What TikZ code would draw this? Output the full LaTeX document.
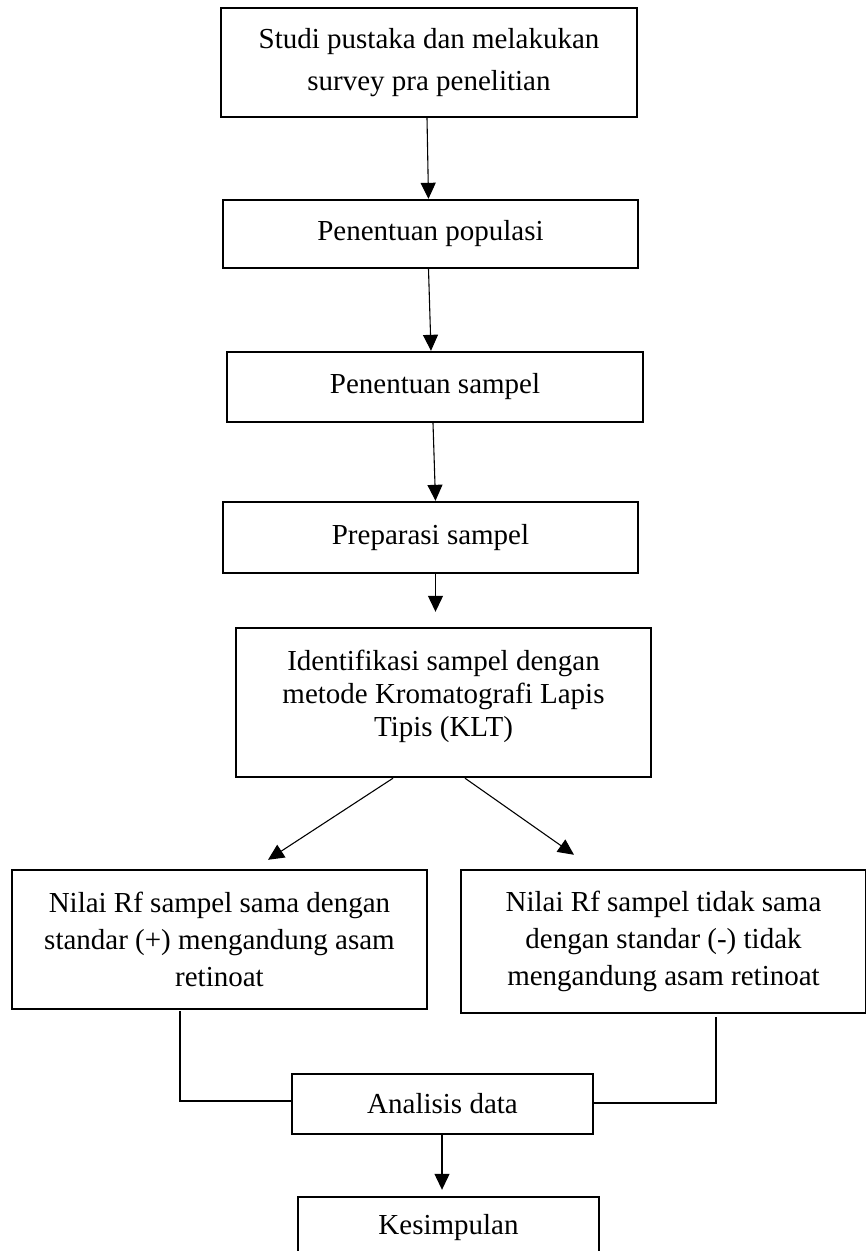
\documentclass[tikz,border=0pt]{standalone}
\usepackage{fontspec}
\setmainfont{Liberation Serif}
\usetikzlibrary{arrows.meta,calc}
\newlength\pxu
\setlength\pxu{0.4138pt}
\begin{document}
\begin{tikzpicture}[x=0.4138pt,y=-0.4138pt,
  box/.style={draw, line width=1pt, inner sep=0pt, align=center, font=\fontsize{12}{15.3}\selectfont},
  con/.style={line width=0.45pt},
  arr/.style={con, -{Triangle[length=6.6pt,width=6.2pt]}}]
\useasboundingbox (0,0) rectangle (866,1251);
\node[box, minimum width=416\pxu, minimum height=109\pxu, font=\fontsize{12}{17.4}\selectfont] (b1) at (429,62.5) {Studi pustaka dan melakukan\\survey pra penelitian};
\node[box, minimum width=415\pxu, minimum height=68\pxu] (b2) at (430.5,234) {Penentuan populasi};
\node[box, minimum width=416\pxu, minimum height=70\pxu] (b3) at (435,387) {Penentuan sampel};
\node[box, minimum width=415\pxu, minimum height=71\pxu] (b4) at (430.5,537.5) {Preparasi sampel};
\node[box, minimum width=415\pxu, minimum height=149\pxu, font=\fontsize{12}{13.7}\selectfont, text depth=7.4pt] (b5) at (443.5,702.5) {Identifikasi sampel dengan\\metode Kromatografi Lapis\\Tipis (KLT)};
\node[box, minimum width=415\pxu, minimum height=139\pxu] (b6) at (219.5,939.5) {Nilai Rf sampel sama dengan\\standar (+) mengandung asam\\retinoat};
\node[box, minimum width=405\pxu, minimum height=143\pxu] (b7) at (663.5,941.5) {Nilai Rf sampel tidak sama\\dengan standar (-) tidak\\mengandung asam retinoat};
\node[box, minimum width=301\pxu, minimum height=60\pxu] (b8) at (442.5,1104) {Analisis data};
\node[box, minimum width=301\pxu, minimum height=62\pxu] (b9) at (448.5,1228) {Kesimpulan};

\draw[arr] ($(b1.south)+(-2,0)$) -- ($(b2.north)+(-2,0)$);
\draw[arr] ($(b2.south)+(-2,0)$) -- ($(b3.north)+(-4,0)$);
\draw[arr] ($(b3.south)+(-2,0)$) -- ($(b4.north)+(5,0)$);
\draw[arr] ($(b4.south)+(5,0)$) -- ($(b5.north)+(-8,-15)$);
\draw[arr] ($(b5.south)+(-50.5,0)$) -- ($(b6.north)+(48.5,-9)$);
\draw[arr] ($(b5.south)+(21.5,0)$) -- ($(b7.north)+(-89.5,-14)$);
\draw[con] ($(b6.south)+(-39.5,1)$) |- ($(b8.west)+(0,-3)$);
\draw[con] ($(b7.south)+(52.5,3)$) |- ($(b8.east)+(0,-1)$);
\draw[arr] ($(b8.south)+(-0.5,0)$) -- ($(b9.north)+(-6.5,-6)$);
\end{tikzpicture}
\end{document}
